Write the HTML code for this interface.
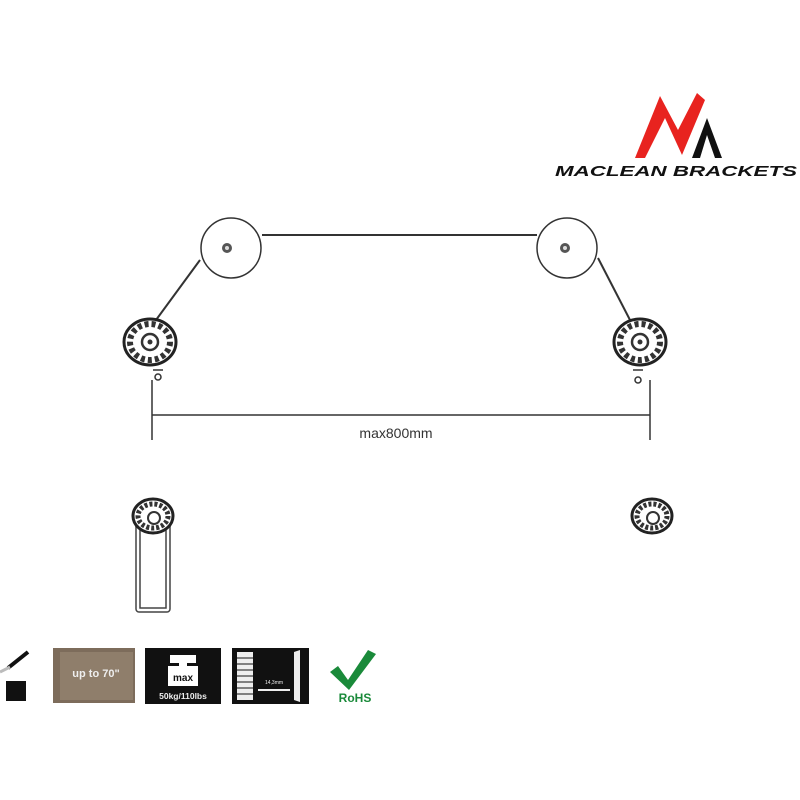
<!DOCTYPE html>
<html><head><meta charset="utf-8"><style>body{margin:0;background:#fff}svg{display:block}</style></head><body>
<svg width="800" height="800" viewBox="0 0 800 800" xmlns="http://www.w3.org/2000/svg" font-family="Liberation Sans, sans-serif">
<!-- logo -->
<polygon points="635,158 660,96 678,130 697,93 705,100 682,155 665,118 645,158" fill="#e8231f"/>
<polygon points="692,158 707,118 722,158 715,158 707,135 700,158" fill="#111"/>
<text x="676" y="176" font-size="15" font-weight="bold" font-style="italic" text-anchor="middle" fill="#111" textLength="242" lengthAdjust="spacingAndGlyphs">MACLEAN BRACKETS</text>
<!-- top frame -->
<g stroke="#333" fill="none" stroke-width="2">
<line x1="262" y1="235" x2="537" y2="235"/>
<line x1="200" y1="260" x2="156" y2="320"/>
<line x1="598" y1="258" x2="630" y2="320"/>
<circle cx="231" cy="248" r="30" fill="#fff" stroke-width="1.5"/>
<circle cx="567" cy="248" r="30" fill="#fff" stroke-width="1.5"/>
</g>
<circle cx="227" cy="248" r="5" fill="#555"/><circle cx="227" cy="248" r="2" fill="#ddd"/>
<circle cx="565" cy="248" r="5" fill="#555"/><circle cx="565" cy="248" r="2" fill="#ddd"/>
<!-- brackets -->
<g id="br">
<ellipse cx="150" cy="342" rx="26" ry="23" fill="#fff" stroke="#222" stroke-width="3"/>
<ellipse cx="150" cy="342" rx="20" ry="18" fill="none" stroke="#333" stroke-width="6" stroke-dasharray="4 3"/>
<circle cx="150" cy="342" r="8" fill="#fff" stroke="#333" stroke-width="2.5"/>
<circle cx="150" cy="342" r="2.5" fill="#333"/>
</g>
<use href="#br" transform="translate(490,0)"/>
<g stroke="#333" stroke-width="1.5" fill="none">
<line x1="153" y1="370" x2="163" y2="370"/><circle cx="158" cy="377" r="3"/>
<line x1="633" y1="370" x2="643" y2="370"/><circle cx="638" cy="380" r="3"/>
<line x1="152" y1="380" x2="152" y2="440"/>
<line x1="650" y1="380" x2="650" y2="440"/>
<line x1="152" y1="415" x2="650" y2="415"/>
</g>
<text x="396" y="438" font-size="14" text-anchor="middle" fill="#333">max800mm</text>
<!-- bottom brackets -->
<g stroke="#444" stroke-width="1.5" fill="none">
<rect x="136" y="520" width="34" height="92" rx="3"/>
<rect x="140" y="524" width="26" height="84"/>
</g>
<g id="sb">
<ellipse cx="153" cy="516" rx="20" ry="17" fill="#fff" stroke="#222" stroke-width="3"/>
<ellipse cx="153" cy="516" rx="15" ry="12" fill="none" stroke="#333" stroke-width="5" stroke-dasharray="3 2"/>
<circle cx="154" cy="518" r="6" fill="#fff" stroke="#333" stroke-width="2"/>
</g>
<use href="#sb" transform="translate(499,0)"/>
<!-- icons -->
<line x1="8" y1="668" x2="28" y2="652" stroke="#111" stroke-width="4"/>
<line x1="0" y1="672" x2="10" y2="667" stroke="#bbb" stroke-width="3"/>
<rect x="6" y="681" width="20" height="20" fill="#111"/>
<rect x="53" y="648" width="82" height="55" fill="#7d6c5b"/>
<rect x="60" y="652" width="73" height="48" fill="#8f7e6b"/>
<text x="96" y="677" font-size="11" font-weight="bold" fill="#eee" text-anchor="middle">up to 70"</text>
<rect x="145" y="648" width="76" height="56" fill="#111"/>
<rect x="170" y="655" width="26" height="8" fill="#fff"/><rect x="179" y="660" width="8" height="6" fill="#fff"/>
<rect x="168" y="666" width="30" height="20" fill="#fff"/>
<text x="183" y="681" font-size="10" font-weight="bold" fill="#111" text-anchor="middle">max</text>
<text x="183" y="699" font-size="8.5" font-weight="bold" fill="#eee" text-anchor="middle">50kg/110lbs</text>
<rect x="232" y="648" width="77" height="56" fill="#111"/>
<rect x="237" y="652" width="16" height="48" fill="#eee"/>
<g stroke="#111" stroke-width="1"><line x1="237" y1="658" x2="253" y2="658"/><line x1="237" y1="664" x2="253" y2="664"/><line x1="237" y1="670" x2="253" y2="670"/><line x1="237" y1="676" x2="253" y2="676"/><line x1="237" y1="682" x2="253" y2="682"/><line x1="237" y1="688" x2="253" y2="688"/><line x1="237" y1="694" x2="253" y2="694"/></g>
<polygon points="294,652 300,650 300,702 294,700" fill="#eee"/>
<line x1="258" y1="690" x2="290" y2="690" stroke="#eee" stroke-width="2"/>
<text x="274" y="684" font-size="5" fill="#eee" text-anchor="middle">14,3mm</text>
<polygon points="330,672 338,666 348,680 368,650 376,654 349,690" fill="#1a8a3a"/>
<text x="355" y="702" font-size="12" font-weight="bold" fill="#1a8a3a" text-anchor="middle">RoHS</text>
</svg>
</body></html>
